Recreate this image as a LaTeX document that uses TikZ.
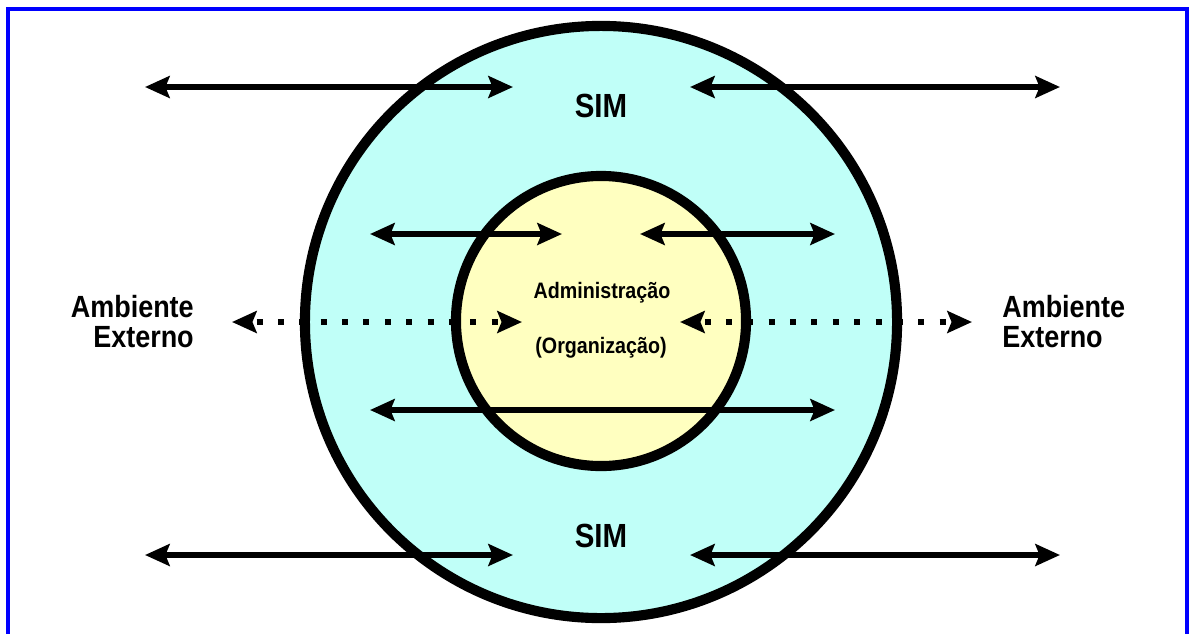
\documentclass[tikz,border=0pt]{standalone}
\usepackage{fontspec}
\setmainfont{Liberation Sans}[FakeStretch=0.88]
\usetikzlibrary{arrows.meta}
\usepackage{xcolor}
\definecolor{simfill}{RGB}{192,255,248}
\definecolor{admfill}{RGB}{255,255,192}
\definecolor{framebl}{RGB}{0,0,255}
\newcommand{\fsz}[2]{\fontsize{#1}{#2}\selectfont\bfseries}

\begin{document}
\begin{tikzpicture}[
  x=0.025cm, y=-0.025cm,
  >={Stealth[length=17.5pt,width=15.5pt,inset=3pt]},
  flow/.style={<->, line width=3.6pt},
  dotflow/.style={<->, line width=4.3pt, dash pattern=on 4.3pt off 10.9pt, dash phase=-4pt},
  ring/.style={circle, draw=black, line width=7.2pt, inner sep=0pt}
]
\useasboundingbox (0,0) rectangle (1189,633);

%% ── Frame ────────────────────────────────────────────────────────────────────
\draw[framebl, line width=3.2pt] (8,645) -- (8,9) -- (1187,9) -- (1187,645);

%% ── Circles ──────────────────────────────────────────────────────────────────
\node[ring, fill=simfill, minimum size=14.8cm] (sim) at (601,322) {};
\node[ring, fill=admfill, minimum size=7.25cm] (adm) at (601,321) {};

%% ── Labels ───────────────────────────────────────────────────────────────────
\node[font=\fsz{23.8}{28}, anchor=base] (simtop) at (601,117) {SIM};
\node[font=\fsz{23.8}{28}, anchor=base] (simbot) at (601,547) {SIM};
\node[font=\fsz{15.9}{19}, anchor=base] (admtxt) at (602,298) {Administração};
\node[font=\fsz{15.9}{19}, anchor=base] (orgtxt) at (601,353) {(Organização)};
\node[font=\fsz{21.8}{21.3}, anchor=base east, align=right, inner sep=0pt]
  (extleft) at (194,347) {Ambiente\\Externo};
\node[font=\fsz{21.8}{21.3}, anchor=base west, align=left, inner sep=0pt]
  (extright) at (1002,347) {Ambiente\\Externo};

%% ── Arrow ends ───────────────────────────────────────────────────────────────
\coordinate (r1la) at (145,87);  \coordinate (r1lb) at (513,87);
\coordinate (r1ra) at (690,87);  \coordinate (r1rb) at (1060,87);
\coordinate (r2la) at (370,234); \coordinate (r2lb) at (562,234);
\coordinate (r2ra) at (640,234); \coordinate (r2rb) at (835,234);
\coordinate (r3la) at (232,322); \coordinate (r3lb) at (522,322);
\coordinate (r3ra) at (680,322); \coordinate (r3rb) at (972,322);
\coordinate (r4a)  at (370,410); \coordinate (r4b)  at (835,410);
\coordinate (r5la) at (145,555); \coordinate (r5lb) at (513,555);
\coordinate (r5ra) at (690,555); \coordinate (r5rb) at (1060,555);

%% ── Arrows ───────────────────────────────────────────────────────────────────
\draw[flow] (r1la) -- (r1lb);
\draw[flow] (r1ra) -- (r1rb);
\draw[flow] (r2la) -- (r2lb);
\draw[flow] (r2ra) -- (r2rb);
\draw[dotflow] (r3la) -- (r3lb);
\draw[dotflow] (r3ra) -- (r3rb);
\draw[flow] (r4a) -- (r4b);
\draw[flow] (r5la) -- (r5lb);
\draw[flow] (r5ra) -- (r5rb);

\end{tikzpicture}
\end{document}
